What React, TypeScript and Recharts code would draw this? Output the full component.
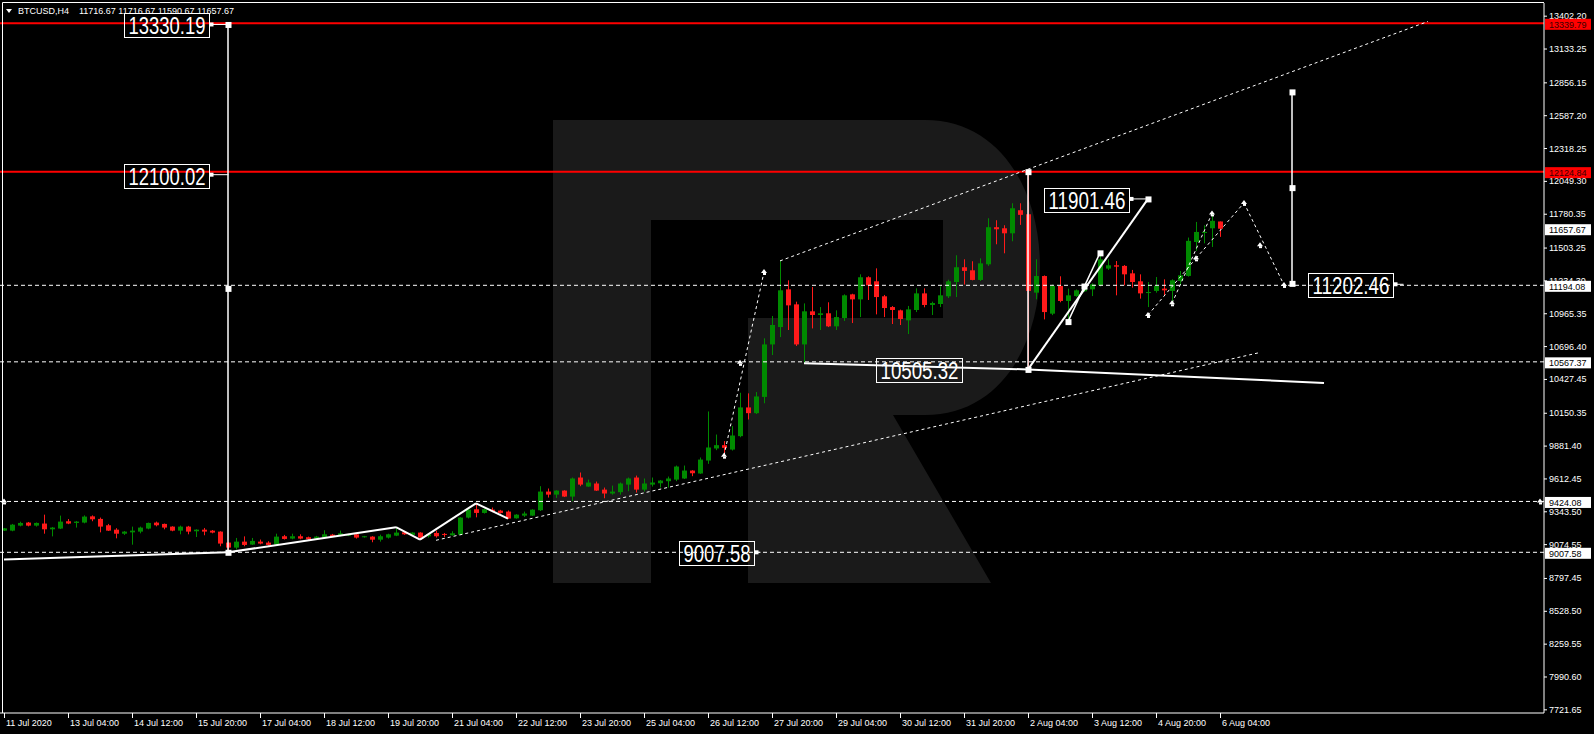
import React from "react";
import {
  Bar,
  ComposedChart,
  ReferenceDot,
  ReferenceLine,
  XAxis,
  YAxis,
} from "recharts";

// BTCUSD H4 candles, one per 4h slot
const opens = [
  9185, 9185, 9226, 9251, 9226, 9243, 9196, 9202, 9262, 9248, 9251, 9302, 9281, 9229, 9193, 9160, 9171, 9177, 9202, 9251,
  9240, 9218, 9185, 9218, 9180, 9193, 9185, 9177, 9087, 9046, 9095, 9071, 9095, 9087, 9071, 9139, 9120, 9139, 9131, 9120,
  9128, 9152, 9144, 9144, 9155, 9131, 9136, 9111, 9128, 9144, 9171, 9150, 9169, 9139, 9166, 9158, 9147, 9152, 9292, 9360,
  9330, 9357, 9349, 9341, 9286, 9308, 9308, 9352, 9505, 9480, 9513, 9464, 9620, 9546, 9571, 9521, 9489, 9500, 9562, 9620,
  9521, 9562, 9573, 9590, 9603, 9612, 9677, 9653, 9759, 9858, 9885, 9849, 9959, 10194, 10147, 10280, 10710, 10852, 11161, 11038,
  10710, 10981, 10951, 10965, 10858, 10926, 11120, 11079, 11260, 11227, 11104, 11016, 10989, 10907, 10992, 11128, 11033, 11041, 11104, 11221,
  11342, 11317, 11238, 11366, 11670, 11661, 11620, 11809, 11776, 11134, 11270, 10962, 11189, 11066, 11106, 11145, 11161, 11194, 11331, 11358,
  11353, 11292, 11227, 11134, 11148, 11167, 11148, 11230, 11271, 11549, 11626, 11661, 11716.67,
];
const highs = [
  9207, 9240, 9258, 9256, 9252, 9316, 9215, 9308, 9280, 9264, 9310, 9310, 9292, 9240, 9205, 9182, 9218, 9218, 9251, 9259,
  9243, 9221, 9226, 9224, 9196, 9207, 9190, 9180, 9090, 9125, 9138, 9125, 9112, 9098, 9160, 9150, 9160, 9155, 9136, 9142,
  9188, 9158, 9185, 9160, 9160, 9142, 9140, 9152, 9160, 9210, 9174, 9172, 9172, 9160, 9185, 9166, 9180, 9295, 9370, 9407,
  9366, 9374, 9355, 9350, 9320, 9341, 9360, 9549, 9530, 9516, 9516, 9620, 9661, 9603, 9587, 9538, 9554, 9579, 9620, 9636,
  9612, 9620, 9600, 9628, 9718, 9718, 9680, 9784, 10161, 9972, 9918, 10041, 10314, 10309, 10320, 10760, 10943, 11394, 11235, 11060,
  11046, 11180, 11016, 11055, 10989, 11120, 11125, 11284, 11268, 11333, 11115, 11024, 10995, 11025, 11169, 11169, 11060, 11186, 11240, 11440,
  11407, 11391, 11415, 11743, 11727, 11686, 11866, 11866, 12124.84, 11407, 11275, 11200, 11268, 11167, 11160, 11190, 11210, 11462, 11407, 11393,
  11360, 11320, 11284, 11221, 11262, 11243, 11243, 11311, 11585, 11713, 11686, 11790, 11716.67,
];
const lows = [
  9182, 9180, 9220, 9220, 9218, 9160, 9138, 9198, 9238, 9210, 9245, 9262, 9171, 9182, 9122, 9150, 9070, 9163, 9196, 9220,
  9196, 9180, 9155, 9155, 9133, 9147, 9163, 9057, 9010, 9030, 9057, 9068, 9073, 9062, 9068, 9112, 9114, 9114, 9109, 9117,
  9125, 9133, 9139, 9140, 9120, 9128, 9090, 9095, 9120, 9140, 9150, 9147, 9111, 9128, 9128, 9133, 9144, 9148, 9285, 9294,
  9325, 9336, 9324, 9280, 9283, 9297, 9305, 9346, 9456, 9453, 9460, 9426, 9549, 9543, 9510, 9450, 9480, 9480, 9508, 9497,
  9505, 9546, 9538, 9538, 9590, 9608, 9631, 9650, 9732, 9844, 9800, 9841, 9950, 10095, 10140, 10228, 10623, 10770, 10828, 10697,
  10552, 10841, 10828, 10852, 10828, 10902, 10885, 10934, 11074, 10956, 10934, 10877, 10869, 10795, 10975, 11014, 10951, 11016, 11090, 11098,
  11200, 11235, 11230, 11353, 11530, 11456, 11555, 11689, 10505.32, 11079, 10915, 10950, 11055, 10902, 11100, 11140, 11106, 11185, 11320, 11112,
  11194, 11175, 11085, 11016, 11134, 11106, 11052, 11194, 11265, 11476, 11538, 11508, 11590.67,
];
const closes = [
  9204, 9234, 9248, 9226, 9248, 9196, 9210, 9259, 9243, 9259, 9300, 9278, 9218, 9185, 9160, 9177, 9185, 9210, 9248, 9229,
  9210, 9185, 9218, 9177, 9193, 9177, 9169, 9079, 9046, 9095, 9068, 9101, 9079, 9068, 9136, 9117, 9139, 9120, 9114, 9136,
  9155, 9139, 9163, 9155, 9128, 9139, 9111, 9139, 9155, 9169, 9155, 9169, 9128, 9155, 9139, 9150, 9163, 9292, 9357, 9330,
  9360, 9344, 9330, 9284, 9316, 9325, 9357, 9505, 9480, 9513, 9464, 9612, 9562, 9579, 9513, 9489, 9505, 9571, 9612, 9521,
  9571, 9579, 9595, 9612, 9710, 9677, 9655, 9767, 9866, 9885, 9863, 9964, 10194, 10147, 10284, 10710, 10869, 11153, 11030, 10710,
  10981, 10951, 10965, 10858, 10934, 11112, 11079, 11260, 11194, 11098, 11008, 10992, 10918, 10997, 11128, 11033, 11049, 11112, 11227, 11342,
  11312, 11238, 11374, 11670, 11653, 11620, 11825, 11771, 11148, 11270, 10975, 11189, 11066, 11112, 11153, 11183, 11202, 11407, 11358, 11347,
  11284, 11221, 11128, 11139, 11189, 11153, 11235, 11276, 11558, 11631, 11631, 11722, 11657.67,
];

const slotCount = 193;

const timeLabels = [
  "11 Jul 2020", "13 Jul 04:00", "14 Jul 12:00", "15 Jul 20:00", "17 Jul 04:00",
  "18 Jul 12:00", "19 Jul 20:00", "21 Jul 04:00", "22 Jul 12:00", "23 Jul 20:00",
  "25 Jul 04:00", "26 Jul 12:00", "27 Jul 20:00", "29 Jul 04:00", "30 Jul 12:00",
  "31 Jul 20:00", "2 Aug 04:00", "3 Aug 12:00", "4 Aug 20:00", "6 Aug 04:00",
];
const timeTickSlots = timeLabels.map((_, k) => k * 8);

const priceTicks = [
  13402.2, 13133.25, 12856.15, 12587.2, 12318.25, 12049.3, 11780.35, 11503.25,
  11234.3, 10965.35, 10696.4, 10427.45, 10150.35, 9881.4, 9612.45, 9343.5,
  9074.55, 8797.45, 8528.5, 8259.55, 7990.6, 7721.65,
];

const redLevels = [13339.79, 12124.84];
const dashedLevels = [11194.08, 10567.37, 9424.08, 9007.58];
const lastPrice = 11657.67;

// [slot, price] polylines
const solidPaths = [
  [[0, 8949], [28, 9007.58], [49, 9213], [52, 9112], [59, 9409], [63, 9283]],
  [[100, 10555], [128, 10505.32], [165, 10395]],
  [[128, 10505.32], [143, 11901.46]],
  [[133, 10897], [137, 11460]],
];
const dottedPaths = [
  [[97, 11394], [178, 13355]],
  [[54, 9106], [157, 10644]],
  [[90, 9799], [95, 11303]],
  [[143, 10951], [149, 11415], [155, 11869], [160, 11197]],
  [[146, 11047], [151, 11783]],
];
const measureLines = [
  { slot: 28, from: 9007.58, to: 13330.19 },
  { slot: 128, from: 10505.32, to: 12124.84 },
  { slot: 161, from: 11210, to: 12778 },
];
const squarePoints = [
  [28, 13330.19], [28, 11168.9], [28, 9007.58],
  [128, 12124.84], [128, 10505.32],
  [161, 12778], [161, 11994], [161, 11210],
  [133, 10897], [137, 11460], [135, 11188], [143, 11901.46],
];
const arrowPoints = [
  [0, 9424.08], [192, 9424.08], [90, 9799], [92, 10559], [95, 11303],
  [143, 10951], [146, 11047], [149, 11415], [151, 11783], [155, 11869],
  [157, 11523], [160, 11197],
];
const priceBoxes = [
  { text: "13330.19", slot: 28, price: 13330.19, dx: -104, w: 85, tail: 19 },
  { text: "12100.02", slot: 28, price: 12100.02, dx: -104, w: 85, tail: 19 },
  { text: "9007.58", slot: 84, price: 9007.58, dx: 3, w: 75, tail: 6 },
  { text: "10505.32", slot: 109, price: 10505.32, dx: 0, w: 86, tail: 0 },
  { text: "11901.46", slot: 130, price: 11901.46, dx: 0, w: 85, tail: 18 },
  { text: "11202.46", slot: 163, price: 11202.46, dx: 0, w: 85, tail: 10 },
];

const chartData = Array.from({ length: slotCount }, (_, slot) =>
  slot < opens.length
    ? {
        slot,
        o: opens[slot],
        h: highs[slot],
        l: lows[slot],
        c: closes[slot],
        range: [lows[slot], highs[slot]],
      }
    : { slot, range: null }
);

const GREEN = "#008a00";
const RED = "#ff1a1a";
const FONT = "'Liberation Sans', Arial, sans-serif";

function Candle(props: any) {
  const { x, y, width, height, payload } = props;
  if (!payload || payload.o == null) return <g />;
  const { o, h, l, c } = payload;
  const top = Math.min(y, y + height);
  const full = Math.abs(height);
  const span = h - l || 1;
  const toY = (p: number) => top + ((h - p) / span) * full;
  const cx = Math.round(x + width / 2);
  const color = c >= o ? GREEN : RED;
  const bodyTop = toY(Math.max(o, c));
  const bodyBottom = toY(Math.min(o, c));
  return (
    <g>
      <line x1={cx + 0.5} x2={cx + 0.5} y1={top} y2={top + full} stroke={color} />
      <rect
        x={cx - 2}
        y={bodyTop}
        width={5}
        height={Math.max(1, bodyBottom - bodyTop)}
        fill={color}
      />
    </g>
  );
}

function TimeTick(props: any) {
  const { x, payload } = props;
  const label = timeLabels[timeTickSlots.indexOf(payload.value)];
  if (!label) return <g />;
  return (
    <g>
      <line x1={x + 0.5} x2={x + 0.5} y1={713} y2={718} stroke="#fff" />
      <text x={x + 2} y={726} fill="#fff" fontSize={9} fontFamily={FONT}>
        {label}
      </text>
    </g>
  );
}

function PriceTick(props: any) {
  const { y, payload } = props;
  const v = payload.value as number;
  const label = v.toFixed(2);
  const isRed = redLevels.includes(v);
  const isBox = isRed || dashedLevels.includes(v) || v === lastPrice;
  if (isBox) {
    return (
      <g>
        <rect x={1545} y={y - 4.5} width={46} height={11} fill={isRed ? "#ff0000" : "#fff"} />
        <text x={1549} y={y + 4.5} fill={isRed ? "#3a0000" : "#000"} fontSize={9} fontFamily={FONT}>
          {label}
        </text>
      </g>
    );
  }
  return (
    <g>
      <line x1={1544} x2={1547} y1={y + 0.5} y2={y + 0.5} stroke="#fff" />
      <text x={1549} y={y + 3.5} fill="#fff" fontSize={9} fontFamily={FONT}>
        {label}
      </text>
    </g>
  );
}

function Square(props: any) {
  const { cx, cy } = props;
  return <rect x={cx - 2.5} y={cy - 2.5} width={6} height={6} fill="#fff" />;
}

function Arrow(props: any) {
  const { cx, cy } = props;
  return (
    <g fill="#fff">
      <path d={`M${cx - 3},${cy + 1} L${cx},${cy - 3} L${cx + 3},${cy + 1} Z`} />
      <rect x={cx - 1} y={cy + 1} width={3} height={2} />
    </g>
  );
}

function makeBox(text: string, dx: number, w: number, tail: number) {
  return (props: any) => {
    const { cx, cy } = props;
    const left = Math.round(cx + dx) + 0.5;
    const right = left + w;
    return (
      <g>
        {tail > 0 && (
          <>
            <line x1={right} x2={right + tail} y1={cy} y2={cy} stroke="#fff" />
            <rect x={right} y={cy - 2} width={4} height={4} fill="#fff" />
          </>
        )}
        <rect x={left} y={Math.round(cy) - 10.5} width={w} height={24} fill="none" stroke="#fff" />
        <text
          x={left + 4}
          y={cy + 10}
          fill="#fff"
          fontSize={23}
          fontFamily={FONT}
          textLength={w - 8}
          lengthAdjust="spacingAndGlyphs"
        >
          {text}
        </text>
      </g>
    );
  };
}

function segmentsOf(paths: number[][][]) {
  const out: { x: number; y: number }[][] = [];
  paths.forEach((p) => {
    for (let k = 0; k < p.length - 1; k++) {
      out.push([
        { x: p[k][0], y: p[k][1] },
        { x: p[k + 1][0], y: p[k + 1][1] },
      ]);
    }
  });
  return out;
}

export default function App() {
  return (
    <div style={{ position: "relative", width: 1594, height: 734, background: "#000" }}>
      <style>{"body{margin:0;background:#000;}"}</style>
      <svg width={1594} height={734} style={{ position: "absolute", left: 0, top: 0 }}>
        <path
          d="M553,120 L925,120 C1000,120 1040,190 1040,267 C1040,345 1000,415 925,415 L893,415 L991,583 L748,583 L748,318 L943,318 L943,220 L651,220 L651,583 L553,583 Z"
          fill="#1a1a1a"
        />
      </svg>
      <ComposedChart
        width={1594}
        height={734}
        data={chartData}
        margin={{ top: 3, right: 0, bottom: 0, left: 0 }}
      >
        <XAxis
          dataKey="slot"
          type="category"
          ticks={timeTickSlots}
          interval={0}
          height={21}
          tickLine={false}
          axisLine={{ stroke: "#fff" }}
          tick={<TimeTick />}
        />
        <YAxis
          orientation="right"
          type="number"
          width={50}
          domain={[7691.6, 13506]}
          allowDataOverflow
          ticks={[...priceTicks, ...dashedLevels, lastPrice, ...redLevels]}
          interval={0}
          tickLine={false}
          axisLine={{ stroke: "#fff" }}
          tick={<PriceTick />}
        />
        <Bar dataKey="range" shape={<Candle />} isAnimationActive={false} />
        {redLevels.map((p) => (
          <ReferenceLine key={`r${p}`} y={p} stroke="#ff0000" strokeWidth={2} />
        ))}
        {dashedLevels.map((p) => (
          <ReferenceLine key={`d${p}`} y={p} stroke="#fff" strokeDasharray="4 3" />
        ))}
        {segmentsOf(dottedPaths).map((seg, k) => (
          <ReferenceLine key={`t${k}`} segment={seg} stroke="#fff" strokeDasharray="3 3" />
        ))}
        {segmentsOf(solidPaths).map((seg, k) => (
          <ReferenceLine key={`s${k}`} segment={seg} stroke="#fff" strokeWidth={k < 8 ? 2 : 1.5} />
        ))}
        {measureLines.map((m) => (
          <ReferenceLine
            key={`m${m.slot}`}
            segment={[
              { x: m.slot, y: m.from },
              { x: m.slot, y: m.to },
            ]}
            stroke="#fff"
            strokeWidth={1.5}
          />
        ))}
        {squarePoints.map(([s, p], k) => (
          <ReferenceDot key={`q${k}`} x={s} y={p} r={3} shape={<Square />} />
        ))}
        {arrowPoints.map(([s, p], k) => (
          <ReferenceDot key={`a${k}`} x={s} y={p} r={3} shape={<Arrow />} />
        ))}
        {priceBoxes.map((b) => (
          <ReferenceDot
            key={b.text}
            x={b.slot}
            y={b.price}
            r={3}
            shape={makeBox(b.text, b.dx, b.w, b.tail)}
          />
        ))}
      </ComposedChart>
      <svg
        width={1594}
        height={734}
        style={{ position: "absolute", left: 0, top: 0, pointerEvents: "none" }}
      >
        <path d="M2.5,713 V2.5 H1544" stroke="#fff" fill="none" />
        <path d="M6,9 L12,9 L9,13 Z" fill="#fff" />
        <text x={18} y={13.5} fill="#fff" fontSize={9} fontFamily={FONT}>
          BTCUSD,H4
        </text>
        <text x={79} y={13.5} fill="#fff" fontSize={9} fontFamily={FONT}>
          11716.67 11716.67 11590.67 11657.67
        </text>
      </svg>
    </div>
  );
}
